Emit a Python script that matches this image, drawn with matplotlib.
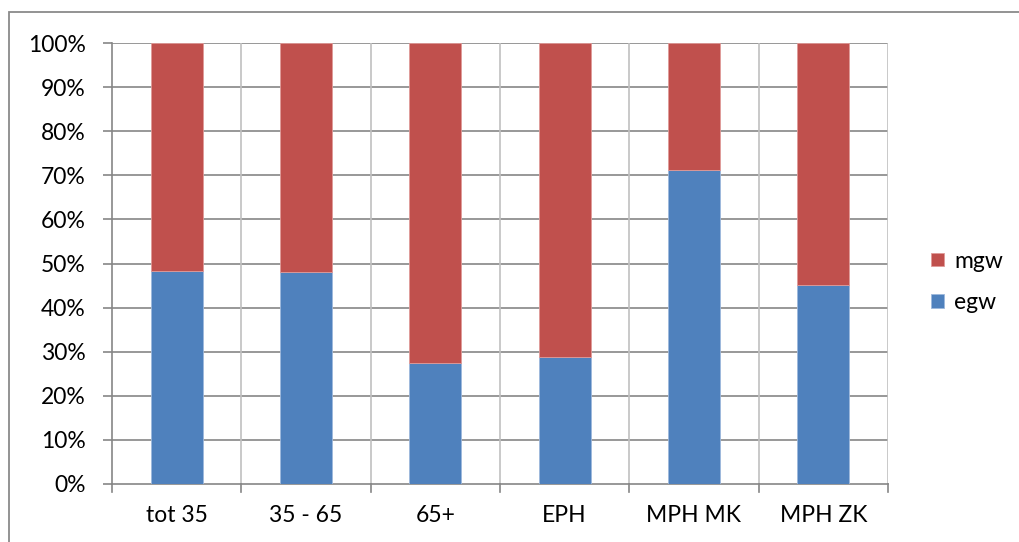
import numpy as np
import matplotlib.pyplot as plt
from matplotlib.patches import Rectangle
from matplotlib.ticker import PercentFormatter

categories = ["tot 35", "35 - 65", "65+", "EPH", "MPH MK", "MPH ZK"]
egw = [48.2, 48.0, 27.4, 28.7, 71.1, 45.2]
mgw = [100 - v for v in egw]

blue = "#4F81BD"
red = "#C0504D"

plt.rcParams['font.family'] = ['Lato', 'DejaVu Sans']
fs = 16.5

fig = plt.figure(figsize=(10.2, 5.42), dpi=100)
ax = fig.add_axes([112/1020, 1 - 484/542, 776/1020, 441/542])

x = np.arange(len(categories))
ax.bar(x, egw, width=0.4, color=blue, edgecolor="#9db8dc", linewidth=0.6, zorder=3, label="egw")
ax.bar(x, mgw, width=0.4, bottom=egw, color=red, edgecolor="#e09a98", linewidth=0.6, zorder=3, label="mgw")

ax.set_xlim(-0.5, len(categories) - 0.5)
ax.set_ylim(0, 100)
ax.set_yticks(np.arange(0, 101, 10))
ax.yaxis.set_major_formatter(PercentFormatter(decimals=0))
ax.set_xticks(x)
ax.set_xticklabels(categories)
ax.tick_params(axis="x", length=0, pad=15, labelsize=fs)
ax.tick_params(axis="y", length=6.5, width=1.2, color="#868686", labelsize=fs, pad=12.5)

# horizontal grid darker, vertical separators lighter
for y in np.arange(10, 101, 10):
    ax.axhline(y, color="#868686", linewidth=1.2, zorder=1)
for b in np.arange(0.5, len(categories) - 0.5, 1.0):
    ax.axvline(b, color="#c0c0c0", linewidth=1.2, zorder=1)
ax.axvline(len(categories) - 0.5, color="#c0c0c0", linewidth=1.2, zorder=1)

# category tick marks hanging below the axis
for b in np.arange(-0.5, len(categories), 1.0):
    ax.plot([b, b], [0, -1.9], color="#868686", linewidth=1.2, clip_on=False, zorder=2)

for side in ["top", "right"]:
    ax.spines[side].set_visible(False)
ax.spines["left"].set_color("#868686")
ax.spines["bottom"].set_color("#868686")
ax.spines["left"].set_linewidth(1.2)
ax.spines["bottom"].set_linewidth(1.2)

handles, labels = ax.get_legend_handles_labels()
fig.legend(handles[::-1], labels[::-1], loc="center left", bbox_to_anchor=(0.893, 1 - 282/542),
           frameon=False, fontsize=fs, handlelength=0.55, handleheight=0.55,
           handletextpad=0.45, labelspacing=0.9)

# chart frame, cut off at the right and bottom edges
fig.patches.append(Rectangle((9.5/1020, -0.05), 1.1, 1 - 12/542 + 0.05, transform=fig.transFigure,
                             fill=False, edgecolor="#8a8a8a", linewidth=1.3, clip_on=False))

fig.savefig("out.png", dpi=100)
